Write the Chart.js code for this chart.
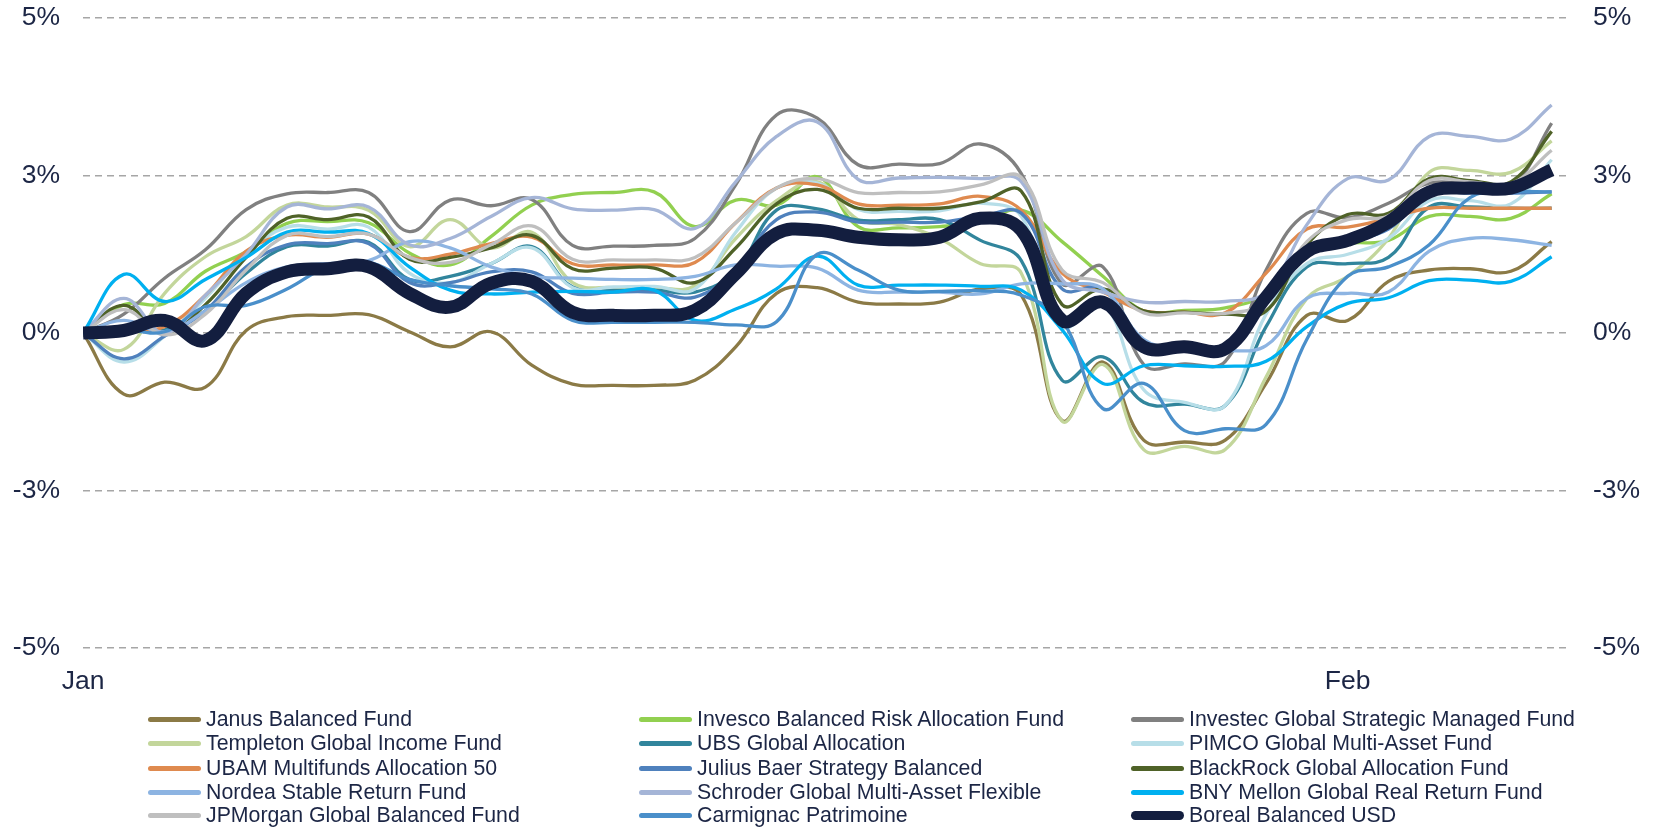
<!DOCTYPE html>
<html>
<head>
<meta charset="utf-8">
<script src="https://cdn.jsdelivr.net/npm/chart.js@4.4.1/dist/chart.umd.min.js"></script>
<style>
  body { margin: 0; background: #fff; }
  #wrap { position: relative; width: 1653px; height: 827px; overflow: hidden; }
  #myChart { position: absolute; left: 0; top: 0; }
  #legend { position: absolute; left: 0; top: 0; width: 1653px; height: 827px; pointer-events: none;
    font-family: 'Liberation Sans', Arial, sans-serif; font-size: 21.3px; color: #1c2645; }
  .item { position: absolute; height: 24px; line-height: 24px; white-space: nowrap; }
  .mark { position: absolute; left: 0; width: 53px; border-radius: 3px; }
  .txt { position: absolute; left: 58px; top: 0; }
</style>
</head>
<body>
<div id="wrap">
  <canvas id="myChart" width="1653" height="700"></canvas>
  <div id="legend"></div>
</div>
<script>
// day offsets from 1 Jan (calendar days, weekends carry Friday's value)
const days = [0,1,2,3,4,5,6,7,8,9,10,11,12,13,14,15,16,17,18,19,20,21,22,23,24,25,26,27,28,29,30,31,32,33,34,35,36]
const monthTicks = [0, 31]
const monthLabels = ['Jan', 'Feb']
const yTicks = [-5, -2.5, 0, 2.5, 5]
const yTickLabels = ['-5%', '-3%', '0%', '3%', '5%']

const names = [
  'Janus Balanced Fund', 'Invesco Balanced Risk Allocation Fund', 'Investec Global Strategic Managed Fund',
  'Templeton Global Income Fund', 'UBS Global Allocation', 'PIMCO Global Multi-Asset Fund',
  'UBAM Multifunds Allocation 50', 'Julius Baer Strategy Balanced', 'BlackRock Global Allocation Fund',
  'Nordea Stable Return Fund', 'Schroder Global Multi-Asset Flexible', 'BNY Mellon Global Real Return Fund',
  'JPMorgan Global Balanced Fund', 'Carmignac Patrimoine', 'Boreal Balanced USD'
]

const janus = [0,-0.97,-0.78,-0.86,0.04,0.26,0.28,0.29,0.02,-0.22,0.02,-0.51,-0.81,-0.83,-0.83,-0.75,-0.22,0.63,0.72,0.49,0.46,0.49,0.70,0.60,-1.39,-0.46,-1.70,-1.73,-1.70,-0.80,0.28,0.20,0.82,1.00,1.02,0.98,1.45]
const invesco = [0,0.45,0.47,0.98,1.29,1.74,1.77,1.75,1.27,1.08,1.53,2.03,2.20,2.23,2.24,1.69,2.11,2.03,2.48,1.69,1.67,1.69,1.76,1.95,1.45,0.90,0.35,0.36,0.40,0.62,1.26,1.42,1.47,1.85,1.85,1.82,2.21]
const investec = [0,0.30,0.87,1.32,1.96,2.21,2.23,2.23,1.61,2.11,2.02,2.12,1.39,1.38,1.39,1.50,2.35,3.46,3.41,2.67,2.68,2.69,3.00,2.53,0.78,1.05,-0.50,-0.49,-0.45,1.00,1.90,1.83,2.06,2.38,2.36,2.32,3.33]
const templeton = [0,-0.26,0.63,1.21,1.53,2.03,2.00,1.95,1.37,1.80,1.35,1.60,0.80,0.72,0.72,0.75,1.50,2.10,2.40,1.80,1.72,1.50,1.10,0.95,-1.40,-0.50,-1.85,-1.80,-1.85,-0.70,0.55,0.90,1.50,2.55,2.58,2.55,3.05]
const ubs = [0,0.05,0.05,0.35,0.95,1.37,1.38,1.44,0.85,0.90,1.10,1.37,0.73,0.68,0.68,0.65,0.98,1.95,1.97,1.79,1.80,1.80,1.47,1.15,-0.75,-0.38,-1.10,-1.13,-1.15,0.10,1.05,1.10,1.20,2.00,2.00,1.98,1.98]
const pimco = [0,-0.46,-0.05,0.55,1.25,1.68,1.65,1.68,0.95,0.80,1.10,1.35,0.72,0.73,0.74,0.70,1.60,2.30,2.38,1.96,1.93,1.94,2.06,1.85,0.10,0.45,-0.90,-1.10,-1.15,0.30,1.10,1.25,1.50,2.10,2.10,2.05,2.75]
const ubam = [0,0.05,0.10,0.60,1.30,1.55,1.52,1.57,1.20,1.25,1.42,1.52,1.10,1.08,1.08,1.12,1.75,2.30,2.35,2.05,2.03,2.05,2.17,1.95,0.95,0.65,0.35,0.33,0.32,0.95,1.65,1.68,1.82,1.98,1.98,1.98,1.98]
const juliusBaer = [0,-0.41,-0.05,0.35,1.05,1.40,1.42,1.42,0.80,0.80,0.97,0.97,0.63,0.65,0.65,0.57,1.00,1.80,1.92,1.76,1.76,1.76,1.85,1.90,0.70,0.70,-0.20,-0.22,-0.25,0.55,1.30,1.45,1.65,2.20,2.22,2.22,2.24]
const blackrock = [0,0.44,0.00,0.45,1.20,1.82,1.80,1.84,1.17,1.20,1.35,1.55,1.02,1.03,1.03,0.80,1.35,2.05,2.28,1.98,1.98,1.98,2.08,2.25,0.45,0.70,0.35,0.33,0.30,0.35,1.40,1.88,1.90,2.45,2.42,2.40,3.20]
const nordea = [0,0.20,0.02,0.35,0.80,1.05,1.10,1.15,1.45,1.35,1.05,0.90,0.87,0.85,0.85,0.90,1.08,1.06,1.03,0.68,0.65,0.65,0.62,0.78,0.78,0.70,-0.10,-0.25,-0.28,-0.20,0.55,0.63,0.65,1.30,1.50,1.48,1.39]
const schroder = [0,0.55,0.00,0.60,1.25,2.00,1.97,2.00,1.40,1.50,1.85,2.15,1.97,1.95,1.96,1.66,2.40,3.12,3.35,2.44,2.46,2.47,2.45,2.40,0.85,0.65,0.49,0.50,0.50,0.65,1.72,2.45,2.43,3.12,3.12,3.08,3.62]
const bny = [0,0.93,0.50,0.85,1.20,1.60,1.60,1.58,1.05,0.68,0.62,0.65,0.66,0.65,0.68,0.20,0.38,0.70,1.22,0.76,0.76,0.76,0.74,0.68,0.05,-0.80,-0.52,-0.52,-0.53,-0.45,0.10,0.47,0.56,0.83,0.84,0.82,1.21]
const jpmorgan = [0,0.37,-0.03,0.30,1.00,1.55,1.53,1.57,1.20,1.12,1.40,1.70,1.17,1.16,1.16,1.20,1.75,2.30,2.45,2.23,2.23,2.24,2.35,2.47,1.00,0.80,0.32,0.32,0.31,0.50,1.45,1.80,1.86,2.42,2.40,2.37,2.90]
const carmignac = [0,0.05,0.02,0.42,0.44,0.70,1.05,1.12,0.85,0.75,0.70,0.62,0.20,0.17,0.17,0.17,0.13,0.18,1.25,1.00,0.68,0.66,0.67,0.60,0.20,-1.20,-0.80,-1.55,-1.52,-1.45,-0.10,0.90,1.05,1.40,2.15,2.24,2.24]
const boreal = [0,0.04,0.20,-0.12,0.63,0.97,1.02,1.05,0.63,0.41,0.79,0.82,0.33,0.28,0.28,0.36,0.94,1.58,1.63,1.52,1.48,1.52,1.82,1.63,0.20,0.49,-0.22,-0.22,-0.25,0.57,1.29,1.47,1.76,2.24,2.30,2.30,2.59]

const series = [janus, invesco, investec, templeton, ubs, pimco, ubam, juliusBaer, blackrock,
  nordea, schroder, bny, jpmorgan, carmignac, boreal]
const colors = ['#8b7a46', '#92d050', '#808080', '#c3d69b', '#31859c', '#b7dee8', '#df8a4f', '#4f81bd', '#4f6228',
  '#8db4e2', '#a5b5d7', '#00b0f0', '#bfbfbf', '#4a8fca', '#131e3f']

const ctx = document.getElementById('myChart')
const txtColor = '#1c2645'
const tickFont = { family: "'Liberation Sans', Arial, sans-serif", size: 26.5 }

const datasets = series.map((d, i) => {
  const last = i === series.length - 1
  return {
    label: names[i],
    data: d,
    borderColor: colors[i],
    backgroundColor: colors[i],
    borderWidth: last ? 13 : 3.3,
    pointRadius: 0,
    pointHoverRadius: 0,
    tension: 0.4,
    fill: false,
    order: -i
  }
})

const yAxis = (pos, grid) => ({
  position: pos,
  min: -5,
  max: 5,
  afterBuildTicks: axis => { axis.ticks = yTicks.map(v => ({ value: v })) },
  afterFit: axis => { axis.width = 71; axis.paddingTop = 0; axis.paddingBottom = 0 },
  ticks: {
    padding: 23,
    color: txtColor,
    font: tickFont,
    callback: v => yTickLabels[yTicks.indexOf(v)]
  },
  grid: { display: grid, drawTicks: false, color: '#a6a6a6', lineWidth: 1.6 },
  border: { display: false, dash: [7, 5] }
})

const chart = new Chart(ctx, {
  type: 'line',
  data: { labels: days, datasets: datasets },
  options: {
    responsive: false,
    animation: false,
    devicePixelRatio: 1,
    layout: { autoPadding: false, padding: { left: 12, right: 12, top: 18, bottom: 4 } },
    plugins: { legend: { display: false }, tooltip: { enabled: false } },
    scales: {
      x: {
        type: 'linear',
        min: 0,
        max: 36.45,
        afterBuildTicks: axis => { axis.ticks = monthTicks.map(v => ({ value: v })) },
        afterFit: axis => { axis.height = 48; axis.paddingLeft = 0; axis.paddingRight = 0 },
        ticks: {
          padding: 18,
          color: txtColor,
          font: tickFont,
          maxRotation: 0,
          autoSkip: false,
          callback: v => monthLabels[monthTicks.indexOf(v)]
        },
        grid: { display: false, drawTicks: false },
        border: { display: false }
      },
      y: yAxis('left', true),
      y2: yAxis('right', false)
    }
  }
})

// legend in 3 columns, built from the chart's datasets
const colX = [148, 639, 1131]
const rowY = [707, 731, 756, 780, 803]
const legend = document.getElementById('legend')
chart.data.datasets.forEach((ds, i) => {
  const el = document.createElement('div')
  el.className = 'item'
  el.style.left = colX[i % 3] + 'px'
  el.style.top = rowY[Math.floor(i / 3)] + 'px'
  const thick = ds.borderWidth > 5 ? 9 : 5
  el.innerHTML = '<div class="mark" style="top:' + (12 - thick / 2) + 'px;height:' + thick + 'px;background:' +
    ds.borderColor + ';border-radius:' + thick / 2 + 'px"></div><div class="txt"></div>'
  el.querySelector('.txt').textContent = ds.label
  legend.appendChild(el)
})
</script>
</body>
</html>
